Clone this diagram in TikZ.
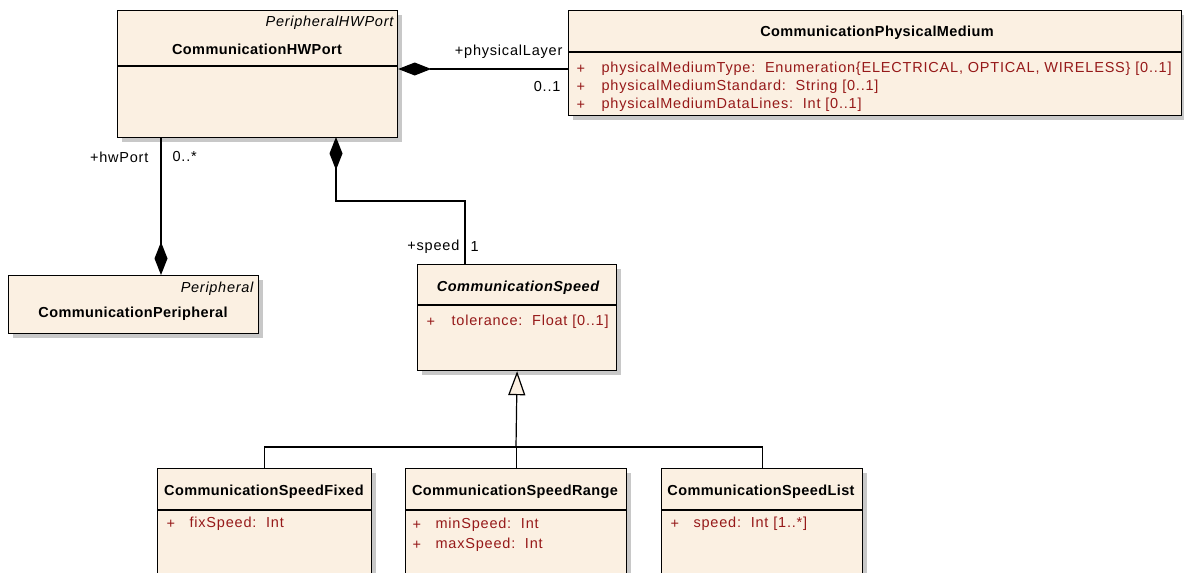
\documentclass[tikz,border=0pt]{standalone}
\usepackage{fontspec}
\setmainfont{Liberation Sans}[LetterSpace=5.5,BoldFeatures={LetterSpace=2.7},ItalicFeatures={LetterSpace=5},BoldItalicFeatures={LetterSpace=3.8}]
\usetikzlibrary{arrows.meta}
\usetikzlibrary{positioning}
\usetikzlibrary{shadows}
\definecolor{classfill}{RGB}{251,240,226}
\definecolor{attrred}{RGB}{150,25,25}
\definecolor{shadowgray}{RGB}{200,200,200}
\tikzstyle{classbox}=[draw,fill=classfill,rectangle,anchor=north west,inner sep=0pt,line width=1.2pt,drop shadow={shadow xshift=4pt,shadow yshift=-4pt,fill=shadowgray,opacity=1}]
\tikzstyle{title}=[font=\fontsize{14.5}{16}\selectfont\bfseries]
\tikzstyle{stereo}=[font=\fontsize{14.5}{16}\selectfont\itshape,anchor=east,inner sep=0pt]
\tikzstyle{attr}=[font=\fontsize{14.5}{16}\selectfont,text=attrred,anchor=west,inner sep=0pt]
\tikzstyle{role}=[font=\fontsize{14.5}{16}\selectfont,inner sep=0pt]

\begin{document}
\begin{tikzpicture}[x=1pt,y=-1pt,line width=1.2pt]
\tikzstyle{comp}=[-{Diamond[length=33pt,width=13pt]}]
\tikzstyle{gen}=[-{Triangle[open,length=24pt,width=17pt,fill=classfill]}]
\clip (0,0) rectangle (1184,573);

% classes
\node [classbox,minimum width=280pt,minimum height=127pt] (hwport) at (117,10) {};
\node [classbox,minimum width=613pt,minimum height=105pt] (medium) at (568,10) {};
\node [classbox,minimum width=250pt,minimum height=58pt] (periph) at (8,275) {};
\node [classbox,minimum width=199pt,minimum height=106pt] (speed) at (417,264) {};
\node [classbox,minimum width=214pt,minimum height=130pt] (fixed) at (157,468) {};
\node [classbox,minimum width=221pt,minimum height=130pt] (range) at (405,468) {};
\node [classbox,minimum width=201pt,minimum height=130pt] (list) at (661,468) {};

% compartments
\draw (hwport.west |- 0,66) -- (hwport.east |- 0,66);
\draw (medium.west |- 0,52) -- (medium.east |- 0,52);
\draw (speed.west |- 0,305) -- (speed.east |- 0,305);
\draw (fixed.west |- 0,510) -- (fixed.east |- 0,510);
\draw (range.west |- 0,510) -- (range.east |- 0,510);
\draw (list.west |- 0,510) -- (list.east |- 0,510);

% names
\node [stereo] (hwportst) at (394,23) {PeripheralHWPort};
\node [title] (hwportnm) at (257,49) {CommunicationHWPort};
\node [title] (mediumnm) at (877,33) {CommunicationPhysicalMedium};
\node [stereo] (periphst) at (254,289) {Peripheral};
\node [title] (periphnm) at (133,314) {CommunicationPeripheral};
\node [title,font=\fontsize{14.5}{16}\selectfont\bfseries\itshape] (speednm) at (518,288) {CommunicationSpeed};
\node [title] (fixednm) at (264,492) {CommunicationSpeedFixed};
\node [title] (rangenm) at (515,492) {CommunicationSpeedRange};
\node [title] (listnm) at (761,492) {CommunicationSpeedList};

% attributes
\node [attr] (m1p) at (576,69) {+};
\node [attr] (m1) at (601,69) {physicalMediumType:\ \ Enumeration\{ELECTRICAL, OPTICAL, WIRELESS\} [0..1]};
\node [attr] (m2p) at (576,87) {+};
\node [attr] (m2) at (601,87) {physicalMediumStandard:\ \ String [0..1]};
\node [attr] (m3p) at (576,105) {+};
\node [attr] (m3) at (601,105) {physicalMediumDataLines:\ \ Int [0..1]};
\node [attr] (s1p) at (426,322) {+};
\node [attr] (s1) at (451,322) {tolerance:\ \ Float [0..1]};
\node [attr] (f1p) at (166,524) {+};
\node [attr] (f1) at (189,524) {fixSpeed:\ \ Int};
\node [attr] (r1p) at (412,525) {+};
\node [attr] (r1) at (435,525) {minSpeed:\ \ Int};
\node [attr] (r2p) at (412,545) {+};
\node [attr] (r2) at (435,545) {maxSpeed:\ \ Int};
\node [attr] (l1p) at (670,524) {+};
\node [attr] (l1) at (693,524) {speed:\ \ Int [1..*]};

% associations
\coordinate (layer) at (568,69);
\draw [comp] (layer) -- (layer -| hwport.east);
\coordinate (port) at (161,137);
\draw [comp] (port) -- (port |- periph.north);
\coordinate (own) at (336,137);
\coordinate (bend) at (465,201);
\draw [comp] (bend |- speed.north) -- (bend) -| (own);

% roles
\node [role,anchor=east] (layerrl) at (563,52) {+physicalLayer};
\node [role,anchor=east] (layermt) at (561,87) {0..1};
\node [role,anchor=east] (portrl) at (149,157) {+hwPort};
\node [role,anchor=west] (portmt) at (172,157) {0..*};
\node [role,anchor=east] (speedrl) at (460,247) {+speed};
\node [role,anchor=west] (speedmt) at (470,247) {1};

% generalization
\coordinate (j) at (516,447);
\draw (fixed.north) |- (j) -| (list.north);
\draw (range.north) -- (range.north |- j);
\draw [gen] (j) -- (speed.south);

\end{tikzpicture}
\end{document}
